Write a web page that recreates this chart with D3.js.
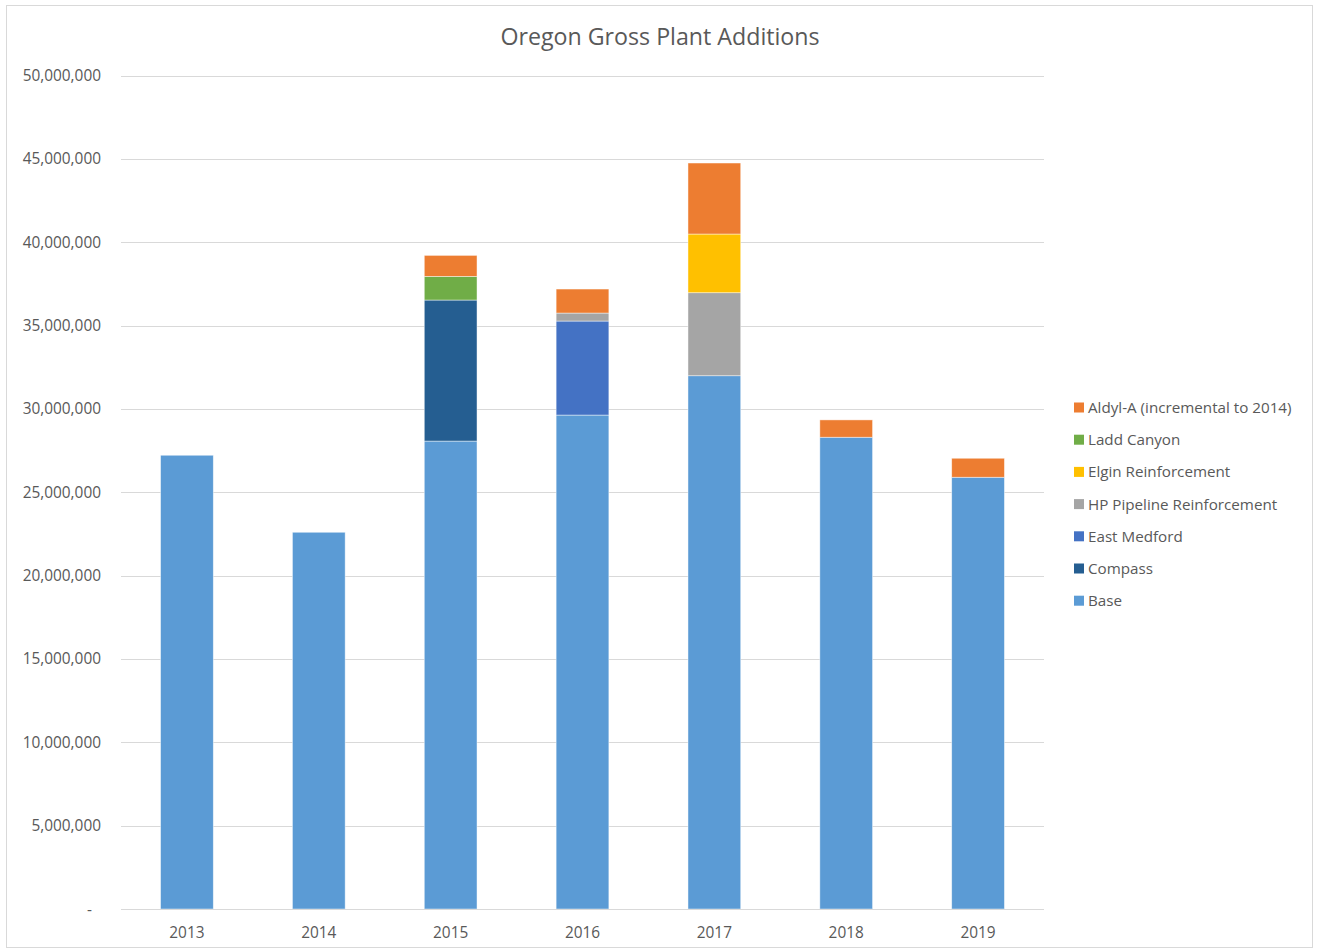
<!DOCTYPE html>
<html>
<head>
<meta charset="utf-8">
<script src="https://cdn.jsdelivr.net/npm/d3@7"></script>
<style>
  html, body { margin: 0; padding: 0; background: #fff; }
  svg { display: block; font-family: "Open Sans", Lato, "Liberation Sans", sans-serif; }
</style>
</head>
<body>
<svg id="chart" width="1317" height="950"></svg>
<script>
// Categories (years)
const years = ["2013", "2014", "2015", "2016", "2017", "2018", "2019"];

// Series values, stacked bottom to top
const base         = [27220000, 22600000, 28070000, 29630000, 31990000, 28300000, 25900000];
const compass      = [0, 0, 8460000, 0, 0, 0, 0];
const eastMedford  = [0, 0, 0, 5640000, 0, 0, 0];
const hpPipeline   = [0, 0, 0, 480000, 4980000, 0, 0];
const elgin        = [0, 0, 0, 0, 3520000, 0, 0];
const laddCanyon   = [0, 0, 1420000, 0, 0, 0, 0];
const aldylA       = [0, 0, 1260000, 1440000, 4260000, 1040000, 1140000];

// Series names & colours (stack order)
const seriesNames = ["Base", "Compass", "East Medford", "HP Pipeline Reinforcement",
                     "Elgin Reinforcement", "Ladd Canyon", "Aldyl-A (incremental to 2014)"];
const seriesColors = ["#5B9BD5", "#255E91", "#4472C4", "#A5A5A5", "#FFC000", "#70AD47", "#ED7D31"];
const seriesValues = [base, compass, eastMedford, hpPipeline, elgin, laddCanyon, aldylA];

// Legend order (top to bottom)
const legendOrder = ["Aldyl-A (incremental to 2014)", "Ladd Canyon", "Elgin Reinforcement",
                     "HP Pipeline Reinforcement", "East Medford", "Compass", "Base"];

// Y-axis ticks
const yTicks = [0, 5000000, 10000000, 15000000, 20000000, 25000000, 30000000, 35000000, 40000000, 45000000, 50000000];

const svg = d3.select("#chart");

// Outer chart border
svg.append("rect")
  .attr("x", 6.5).attr("y", 5.5)
  .attr("width", 1306).attr("height", 942)
  .attr("fill", "#fff").attr("stroke", "#D9D9D9").attr("stroke-width", 1);

// Title
svg.append("text")
  .attr("x", 660).attr("y", 45)
  .attr("text-anchor", "middle")
  .attr("font-size", 23.2)
  .attr("fill", "#595959")
  .text("Oregon Gross Plant Additions");

const plot = { left: 121, right: 1044, top: 75.5, bottom: 909 };

const x = d3.scaleBand()
  .domain(years)
  .range([plot.left, plot.right])
  .paddingInner(0.6)
  .paddingOuter(0.3);

const y = d3.scaleLinear()
  .domain([0, 50000000])
  .range([plot.bottom, plot.top]);

// Gridlines
svg.append("g")
  .selectAll("line")
  .data(yTicks)
  .join("line")
  .attr("x1", plot.left).attr("x2", plot.right)
  .attr("y1", d => Math.round(y(d)) + 0.5)
  .attr("y2", d => Math.round(y(d)) + 0.5)
  .attr("stroke", "#D9D9D9")
  .attr("stroke-width", 1);

// Y axis labels
const fmt = d3.format(",");
svg.append("g")
  .selectAll("text")
  .data(yTicks)
  .join("text")
  .attr("x", d => d === 0 ? 92 : 101)
  .attr("y", d => y(d) + 5.5)
  .attr("text-anchor", "end")
  .attr("font-size", 15.4)
  .attr("fill", "#595959")
  .text(d => d === 0 ? "-" : fmt(d));

// Stack the series
const table = years.map((yr, i) => {
  const row = { year: yr };
  seriesNames.forEach((n, s) => { row[n] = seriesValues[s][i]; });
  return row;
});
const stacked = d3.stack().keys(seriesNames)(table);
const color = d3.scaleOrdinal().domain(seriesNames).range(seriesColors);

svg.append("g")
  .selectAll("g")
  .data(stacked)
  .join("g")
  .attr("fill", d => color(d.key))
  .selectAll("rect")
  .data(d => d.filter(p => p[1] - p[0] > 0))
  .join("rect")
  .attr("x", d => x(d.data.year))
  .attr("width", x.bandwidth())
  .attr("y", d => y(d[1]))
  .attr("height", d => y(d[0]) - y(d[1]))
  .attr("stroke", "#fff")
  .attr("stroke-opacity", 0.6)
  .attr("stroke-width", 0.75);

// X axis baseline
svg.append("line")
  .attr("x1", plot.left).attr("x2", plot.right)
  .attr("y1", plot.bottom + 0.5).attr("y2", plot.bottom + 0.5)
  .attr("stroke", "#D9D9D9");

// X axis labels
svg.append("g")
  .selectAll("text")
  .data(years)
  .join("text")
  .attr("x", d => x(d) + x.bandwidth() / 2)
  .attr("y", 937.5)
  .attr("text-anchor", "middle")
  .attr("font-size", 15.4)
  .attr("fill", "#595959")
  .text(d => d);

// Legend
const legend = svg.append("g")
  .selectAll("g")
  .data(legendOrder)
  .join("g")
  .attr("transform", (d, i) => `translate(1074, ${407 + i * 32.2})`);

legend.append("rect")
  .attr("x", 0).attr("y", -4.5)
  .attr("width", 10).attr("height", 10)
  .attr("fill", d => color(d));

legend.append("text")
  .attr("x", 14).attr("y", 6)
  .attr("font-size", 15.2)
  .attr("fill", "#595959")
  .text(d => d);
</script>
</body>
</html>
